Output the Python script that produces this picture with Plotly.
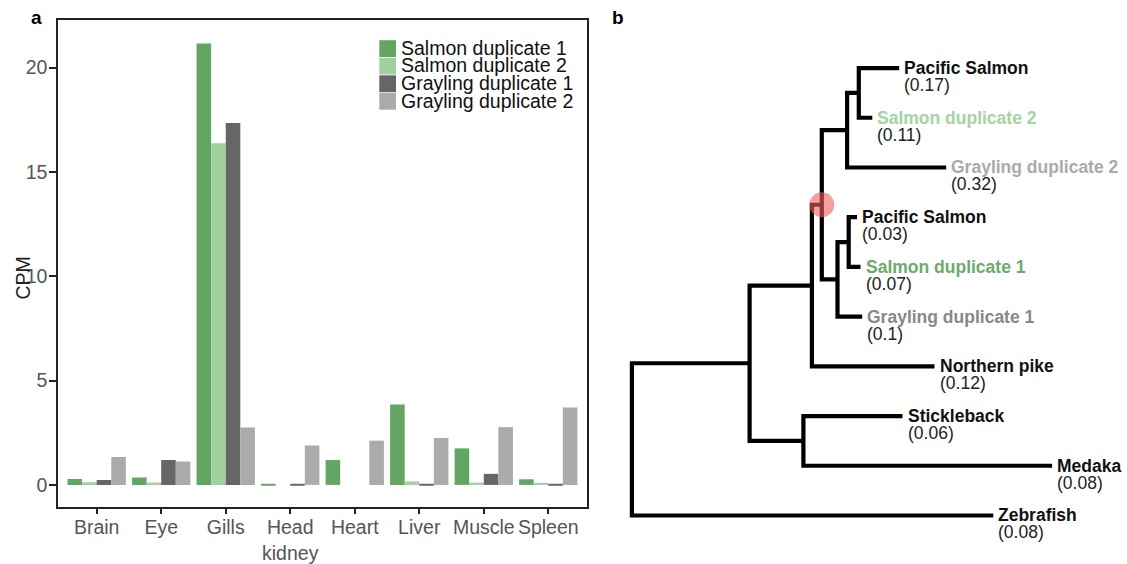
import plotly.graph_objects as go

# ---------------- data: panel a ----------------
tissues = ["Brain", "Eye", "Gills", "Head kidney", "Heart", "Liver", "Muscle", "Spleen"]
tissue_ticktext = ["Brain", "Eye", "Gills", "Head<br>kidney", "Heart", "Liver", "Muscle", "Spleen"]
series_names = ["Salmon duplicate 1", "Salmon duplicate 2", "Grayling duplicate 1", "Grayling duplicate 2"]
salmon_dup1 = [0.28, 0.35, 21.15, 0.02, 1.19, 3.85, 1.75, 0.27]
salmon_dup2 = [0.13, 0.12, 16.37, 0.0, 0.0, 0.17, 0.11, 0.10]
grayling_dup1 = [0.24, 1.19, 17.34, 0.02, 0.0, 0.04, 0.53, 0.03]
grayling_dup2 = [1.34, 1.12, 2.75, 1.89, 2.12, 2.25, 2.77, 3.71]
series_values = [salmon_dup1, salmon_dup2, grayling_dup1, grayling_dup2]
series_colors = ["#63a663", "#a3d09f", "#666666", "#ababab"]
y_ticks = [0, 5, 10, 15, 20]

# ---------------- data: panel b (tree) ----------------
leaf_names = ["Pacific Salmon", "Salmon duplicate 2", "Grayling duplicate 2",
              "Pacific Salmon", "Salmon duplicate 1", "Grayling duplicate 1",
              "Northern pike", "Stickleback", "Medaka", "Zebrafish"]
leaf_values = ["0.17", "0.11", "0.32", "0.03", "0.07", "0.1", "0.12", "0.06", "0.08", "0.08"]
leaf_depths = [0.2673, 0.2404, 0.3143, 0.2252, 0.2286, 0.2303, 0.3026, 0.2706, 0.4202, 0.3614]
leaf_colors = ["#111111", "#a6d3a2", "#aaaaaa", "#111111", "#6aab6a", "#888888",
               "#111111", "#111111", "#111111", "#111111"]
node_names = ["root", "F", "A", "B", "C", "H", "D", "E", "G"]
node_depths = [0.0, 0.1177, 0.1800, 0.1899, 0.2152, 0.2269, 0.2056, 0.2168, 0.1715]
node_children = [["F", 9], ["A", "G"], ["B", 6], ["C", "D"], ["H", 2], [0, 1],
                 ["E", 5], [3, 4], [7, 8]]
highlight_node = "B"

FONT = "Liberation Sans, Arial, Helvetica, sans-serif"
W, H = 1127, 564


def px(x):
    return x / W


def py(y):
    return 1 - y / H


fig = go.Figure()

# ---------------- bars ----------------
for name, vals, col in zip(series_names, series_values, series_colors):
    fig.add_trace(go.Bar(x=tissues, y=vals, name=name, marker_color=col,
                         marker_line_width=0, xaxis="x", yaxis="y",
                         showlegend=False))

# ---------------- tree ----------------
nodes = {n: (d, c) for n, d, c in zip(node_names, node_depths, node_children)}


def node_pos(ref):
    if isinstance(ref, int):
        return leaf_depths[ref], float(ref)
    d, ch = nodes[ref]
    ys = [node_pos(c)[1] for c in ch]
    return d, (ys[0] + ys[-1]) / 2.0


lx, ly = [], []
for n in node_names:
    d, ch = nodes[n]
    c1 = node_pos(ch[0])
    c2 = node_pos(ch[1])
    lx += [c1[0], d, d, c2[0], None]
    ly += [c1[1], c1[1], c2[1], c2[1], None]

fig.add_trace(go.Scatter(x=lx, y=ly, mode="lines", xaxis="x2", yaxis="y2",
                         line=dict(color="#000000", width=4.2),
                         hoverinfo="skip", showlegend=False))

hx, hy = node_pos(highlight_node)
fig.add_trace(go.Scatter(x=[hx], y=[hy], mode="markers", xaxis="x2", yaxis="y2",
                         marker=dict(size=25, color="rgba(240,95,95,0.6)", line_width=0),
                         hoverinfo="skip", showlegend=False))

annotations = []
for i, (nm, v, d, col) in enumerate(zip(leaf_names, leaf_values, leaf_depths, leaf_colors)):
    annotations.append(dict(xref="x2", yref="y2", x=d, y=i, text="<b>%s</b>" % nm,
                            showarrow=False, xanchor="left", yanchor="middle",
                            xshift=3, font=dict(family=FONT, size=17.5, color=col)))
    annotations.append(dict(xref="x2", yref="y2", x=d, y=i, text="(%s)" % v,
                            showarrow=False, xanchor="left", yanchor="middle",
                            xshift=3, yshift=-17, font=dict(family=FONT, size=17.5, color="#222222")))

# ---------------- custom legend ----------------
shapes = []
row_h = 17.8
for k, (nm, col) in enumerate(zip(series_names, series_colors)):
    top = 40.7 + k * row_h
    shapes.append(dict(type="rect", xref="paper", yref="paper",
                       x0=px(379.3), x1=px(396), y0=py(top + row_h - 0.8), y1=py(top),
                       fillcolor=col, line_width=0))
    annotations.append(dict(xref="paper", yref="paper", x=px(399), y=py(top + row_h / 2 - 1.2),
                            text=nm, showarrow=False, xanchor="left", yanchor="middle",
                            font=dict(family=FONT, size=19.5, color="#111111")))

# panel letters and y title
annotations.append(dict(xref="paper", yref="paper", x=px(36), y=py(18), text="<b>a</b>",
                        xanchor="center", yanchor="middle",
                        showarrow=False, font=dict(family=FONT, size=19, color="#000")))
annotations.append(dict(xref="paper", yref="paper", x=px(618), y=py(18), text="<b>b</b>",
                        xanchor="center", yanchor="middle",
                        showarrow=False, font=dict(family=FONT, size=19, color="#000")))
annotations.append(dict(xref="paper", yref="paper", x=px(22), y=py(282), text="CPM",
                        textangle=-90, showarrow=False, xanchor="center", yanchor="middle",
                        font=dict(family=FONT, size=19.5, color="#222222")))

axis_style = dict(showline=True, mirror=True, linecolor="#222222", linewidth=2,
                  ticks="outside", tickcolor="#222222", tickwidth=2,
                  showgrid=False, zeroline=False,
                  tickfont=dict(family=FONT, size=19.5, color="#555555"))

fig.update_layout(
    width=W, height=H,
    margin=dict(l=0, r=0, t=0, b=0),
    paper_bgcolor="white", plot_bgcolor="rgba(0,0,0,0)",
    barmode="group", bargap=0.096, bargroupgap=0,
    font=dict(family=FONT),
    showlegend=False,
    xaxis=dict(domain=[58.3 / W, 587 / W], range=[-0.595, 7.60],
               tickmode="array", tickvals=tissues, ticktext=tissue_ticktext,
               ticklen=5, ticklabelstandoff=-3, **axis_style),
    yaxis=dict(domain=[py(513.3), py(20)], range=[-1.055, 22.29],
               tickvals=y_ticks, ticklen=7, ticklabelstandoff=-2, **axis_style),
    xaxis2=dict(domain=[0.5, 1.0], range=[-0.0684, 0.4951], visible=False, anchor="y2"),
    yaxis2=dict(domain=[0, 1], range=[9.835, -1.369], visible=False, anchor="x2"),
    annotations=annotations,
    shapes=shapes,
)

post = ("document.body.style.margin='0px';"
        "document.body.style.padding='0px';"
        "document.documentElement.style.overflow='hidden';"
        "document.body.style.overflow='hidden';")

fig.write_html("out.html", config={"displayModeBar": False}, post_script=post)
